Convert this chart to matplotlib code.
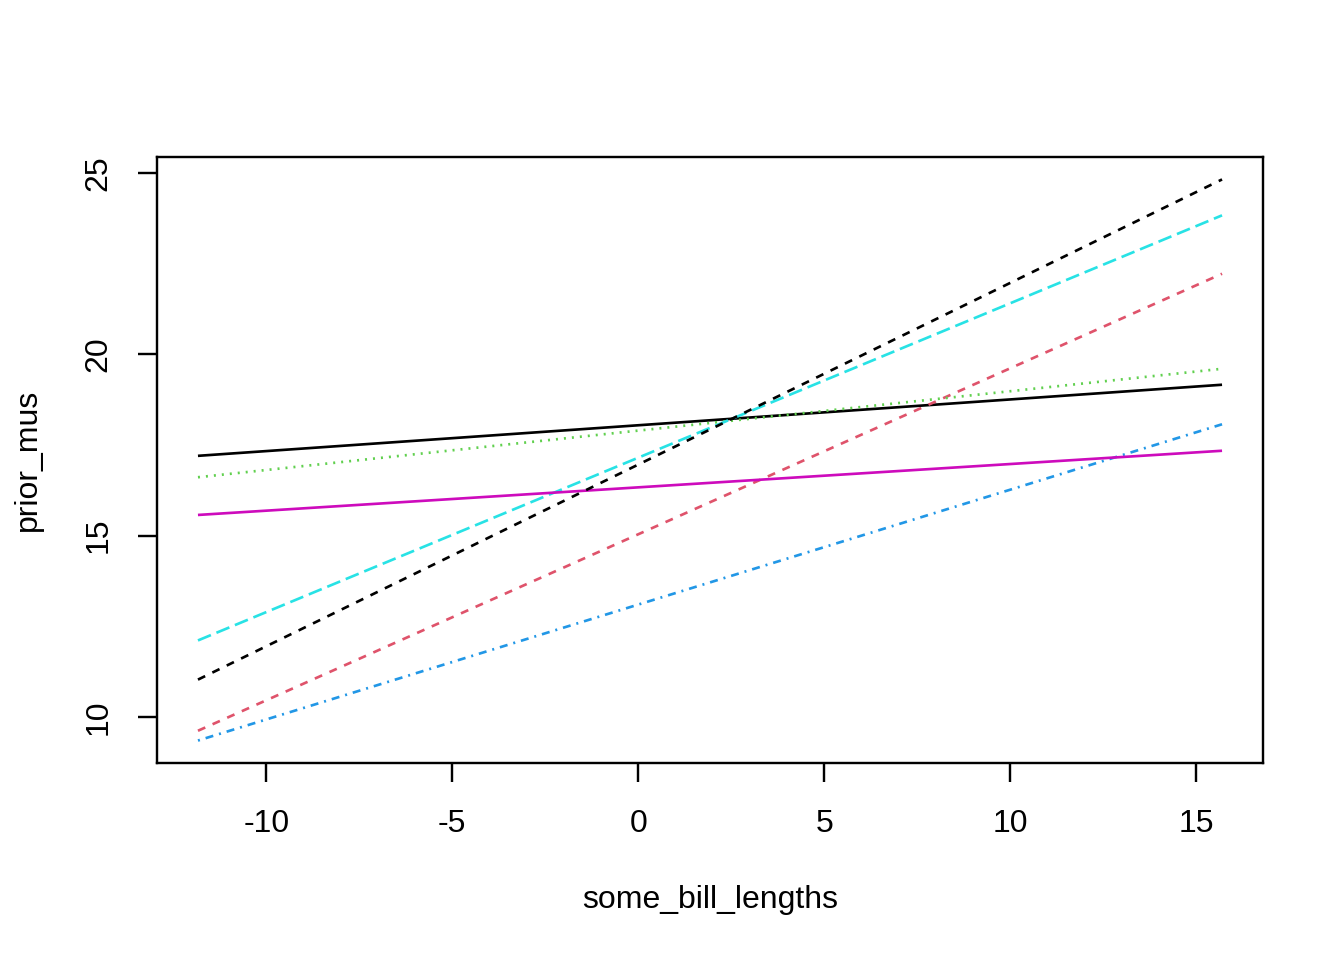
import matplotlib
matplotlib.use("Agg")
import matplotlib.pyplot as plt

plt.rcParams['font.family'] = ['Liberation Sans', 'DejaVu Sans']

some_bill_lengths = [-11.84, 15.70]
series = [
    [17.20, 19.16],   # 1 black solid
    [9.62, 22.22],    # 2 red dashed
    [16.61, 19.60],   # 3 green dotted
    [9.35, 18.07],    # 4 blue dotdash
    [12.11, 23.83],   # 5 cyan longdash
    [15.57, 17.34],   # 6 magenta solid
    [11.03, 24.82],   # 7 black dashed
]
colors = ["black", "#DF536B", "#61D04F", "#2297E6", "#28E2E5", "#CD0BBC", "black"]
# R lty patterns (in units of 1/96 inch)
r_lty = [None, (4, 4), (1, 3), (1, 3, 4, 3), (7, 3), None, (4, 4)]
xticks = [-10, -5, 0, 5, 10, 15]
yticks = [10, 15, 20, 25]

LW = 1.0
unit = 0.75 / LW  # 1/96 inch = 0.75pt, expressed in units of linewidth

fig = plt.figure(figsize=(7, 5), dpi=192)
ax = fig.add_axes([157/1344, 1-763/960, (1263-157)/1344, (763-157)/960])

for ys, c, d in zip(series, colors, r_lty):
    line, = ax.plot(some_bill_lengths, ys, color=c, lw=LW, solid_capstyle='butt', dash_capstyle='butt')
    if d is not None:
        line.set_dashes([v * unit for v in d])

xr = some_bill_lengths[1] - some_bill_lengths[0]
ax.set_xlim(some_bill_lengths[0] - 0.04*xr, some_bill_lengths[1] + 0.04*xr)
allv = [v for s in series for v in s]
ymin, ymax = min(allv), max(allv)
yr = ymax - ymin
ax.set_ylim(ymin - 0.04*yr, ymax + 0.04*yr)

ax.set_xticks(xticks)
ax.set_xticklabels([str(t) for t in xticks])
ax.set_yticks(yticks)
ax.set_yticklabels([str(t) for t in yticks], rotation=90, va='center')
ax.tick_params(axis='both', direction='out', length=7.2, width=0.9, labelsize=12, color='black')
ax.tick_params(axis='x', pad=10)
ax.tick_params(axis='y', pad=9)
for s in ax.spines.values():
    s.set_linewidth(0.9)
    s.set_color('black')

fig.text(710/1344, 1-900/960, "some_bill_lengths", ha='center', va='center', fontsize=12)
fig.text(28/1344, 1-460/960, "prior_mus", ha='center', va='center', rotation=90, fontsize=12)

fig.savefig("out.png", dpi=192, facecolor='white')
